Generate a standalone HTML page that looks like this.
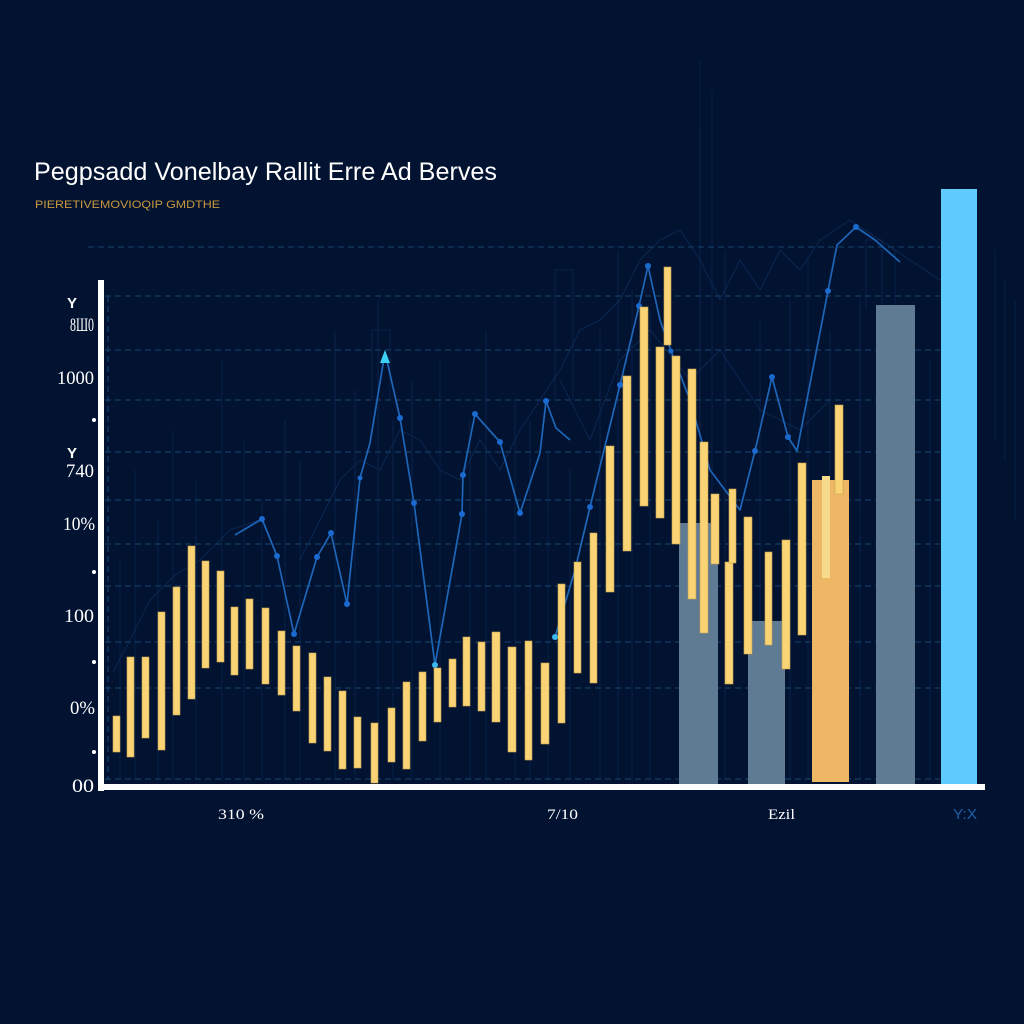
<!DOCTYPE html>
<html><head><meta charset="utf-8"><style>
html,body{margin:0;padding:0;background:#021231;}
svg{display:block;}
</style></head><body>
<svg width="1024" height="1024" viewBox="0 0 1024 1024" xmlns="http://www.w3.org/2000/svg">
<rect width="1024" height="1024" fill="#021231"/>

<g stroke="#0c2a50" stroke-width="1.2" fill="none" opacity="0.6">
<path d="M120 780V560 M135 780V470 M158 780V520 M173 780V430 M196 780V480 M222 780V360 M244 780V440 M262 780V500 M285 780V420 M300 780V460 M335 780V330 M355 780V390 M378 780V300 M393 780V420 M412 780V380 M440 780V360 M470 780V420 M486 780V330 M515 780V400 M530 780V420 M548 780V450 M570 780V470 M600 780V330 M618 780V250 M632 780V290 M650 780V310 M700 780V60 M712 780V90 M725 780V250 M760 780V320 M790 780V300 M808 780V260 M830 780V330 M860 780V300 M895 780V250 M930 780V360 M995 440V250 M1005 460V280 M1015 520V300"/>
<path d="M555 400V270H573V400 M372 400V330H390V400 M866 310V240H882V310"/>
</g>

<g stroke="#174670" stroke-width="1.1" stroke-dasharray="6 4" fill="none">
<line x1="88" y1="247" x2="940" y2="247"/>
<line x1="105" y1="296" x2="940" y2="296"/>
<line x1="105" y1="350" x2="940" y2="350"/>
<line x1="105" y1="400" x2="940" y2="400"/>
<line x1="105" y1="452" x2="940" y2="452"/>
<line x1="105" y1="500" x2="940" y2="500"/>
<line x1="105" y1="544" x2="940" y2="544"/>
<line x1="105" y1="586" x2="940" y2="586"/>
<line x1="105" y1="642" x2="940" y2="642"/>
<line x1="105" y1="688" x2="940" y2="688"/>
<line x1="105" y1="779" x2="940" y2="779"/>
<line x1="108" y1="296" x2="108" y2="780"/>
</g>

<g stroke="#103462" stroke-width="1.1" fill="none" opacity="0.6">
<polyline points="113,672 130,640 150,600 175,575 200,560 230,530 262,519"/>
<polyline points="300,560 320,520 340,480 360,460 380,470 400,430 420,440 440,470 460,480 480,440 500,470 520,430 540,400 560,370 580,330 600,320 620,300 640,260 660,240 680,230 700,260 720,300 740,260 760,290 780,250 800,270 820,240 850,220 880,240 910,260 940,280"/>
<polyline points="560,380 590,440 620,360 650,330 690,380 720,350 760,410 800,430 830,400"/>
</g>

<rect x="679" y="523" width="39" height="264" fill="#5f7a93"/>
<rect x="748" y="621" width="37" height="166" fill="#5f7a93"/>
<rect x="876" y="305" width="39" height="482" fill="#5f7a93"/>
<rect x="941" y="189" width="36" height="598" fill="#5ecbfd"/>
<rect x="812" y="480" width="37" height="302" fill="#eeb765"/>

<g stroke="#1d66b8" stroke-width="1.7" fill="none" stroke-linejoin="round">
<polyline points="235,535 262,519 277,556 294,634 317,557 331,533 347,604 360,478 370,443 385,352 400,418 414,503 435,665 462,514 463,475 475,414 500,442 520,513 540,453 546,401 556,428 570,440"/>
<polyline points="555,637 575,570 590,507 620,385 639,306 648,266 660,320 671,351 690,400 710,470 740,510 755,451 772,377 788,437 797,451 828,291 837,245 856,227 875,240 900,262"/>
</g>
<g fill="#1a6ad0">
<circle cx="262" cy="519" r="3"/><circle cx="277" cy="556" r="3"/><circle cx="294" cy="634" r="3"/>
<circle cx="317" cy="557" r="3"/><circle cx="331" cy="533" r="3"/><circle cx="347" cy="604" r="3"/>
<circle cx="360" cy="478" r="2.5"/><circle cx="400" cy="418" r="3"/><circle cx="414" cy="503" r="3"/>
<circle cx="462" cy="514" r="3"/><circle cx="463" cy="475" r="3"/><circle cx="475" cy="414" r="3"/>
<circle cx="500" cy="442" r="3"/><circle cx="520" cy="513" r="3"/><circle cx="546" cy="401" r="3"/>
<circle cx="590" cy="507" r="3"/><circle cx="620" cy="385" r="3"/><circle cx="639" cy="306" r="3"/>
<circle cx="648" cy="266" r="3"/><circle cx="671" cy="351" r="2.5"/><circle cx="755" cy="451" r="3"/>
<circle cx="772" cy="377" r="3"/><circle cx="788" cy="437" r="3"/><circle cx="828" cy="291" r="3"/>
<circle cx="856" cy="227" r="3"/>
</g>
<circle cx="435" cy="665" r="3" fill="#3ab8f0"/>
<circle cx="555" cy="637" r="3" fill="#3ab8f0"/>
<polygon points="380,363 385,350 390,363" fill="#3dd0f2"/>

<g fill="#f9d374" stroke="#c9a450" stroke-width="0.6">
<rect x="113" y="716" width="7" height="36"/>
<rect x="127" y="657" width="7" height="100"/>
<rect x="142" y="657" width="7" height="81"/>
<rect x="158" y="612" width="7" height="138"/>
<rect x="173" y="587" width="7" height="128"/>
<rect x="188" y="546" width="7" height="153"/>
<rect x="202" y="561" width="7" height="107"/>
<rect x="217" y="571" width="7" height="91"/>
<rect x="231" y="607" width="7" height="68"/>
<rect x="246" y="599" width="7" height="70"/>
<rect x="262" y="608" width="7" height="76"/>
<rect x="278" y="631" width="7" height="64"/>
<rect x="293" y="646" width="7" height="65"/>
<rect x="309" y="653" width="7" height="90"/>
<rect x="324" y="677" width="7" height="74"/>
<rect x="339" y="691" width="7" height="78"/>
<rect x="354" y="717" width="7" height="51"/>
<rect x="371" y="723" width="7" height="60"/>
<rect x="388" y="708" width="7" height="54"/>
<rect x="403" y="682" width="7" height="87"/>
<rect x="419" y="672" width="7" height="69"/>
<rect x="434" y="668" width="7" height="54"/>
<rect x="449" y="659" width="7" height="48"/>
<rect x="463" y="637" width="7" height="69"/>
<rect x="478" y="642" width="7" height="69"/>
<rect x="492" y="632" width="8" height="90"/>
<rect x="508" y="647" width="8" height="105"/>
<rect x="525" y="641" width="7" height="119"/>
<rect x="541" y="663" width="8" height="81"/>
<rect x="558" y="584" width="7" height="139"/>
<rect x="574" y="562" width="7" height="111"/>
<rect x="590" y="533" width="7" height="150"/>
<rect x="606" y="446" width="8" height="146"/>
<rect x="623" y="376" width="8" height="175"/>
<rect x="640" y="307" width="8" height="199"/>
<rect x="656" y="347" width="8" height="171"/>
<rect x="664" y="267" width="7" height="78"/>
<rect x="672" y="356" width="8" height="188"/>
<rect x="688" y="369" width="8" height="230"/>
<rect x="700" y="442" width="8" height="191"/>
<rect x="711" y="494" width="8" height="70"/>
<rect x="725" y="562" width="8" height="122"/>
<rect x="729" y="489" width="7" height="74"/>
<rect x="744" y="517" width="8" height="137"/>
<rect x="765" y="552" width="7" height="93"/>
<rect x="782" y="540" width="8" height="129"/>
<rect x="798" y="463" width="8" height="172"/>
<rect x="835" y="405" width="8" height="89"/>
</g>
<rect x="822" y="476" width="8" height="102" fill="#f8da8c"/>

<rect x="98" y="280" width="6" height="511" fill="#ffffff"/>
<rect x="98" y="784" width="887" height="6" fill="#ffffff"/>

<g fill="#ffffff">
<circle cx="94" cy="420" r="2"/><circle cx="94" cy="572" r="2"/>
<circle cx="94" cy="662" r="2"/><circle cx="94" cy="752" r="2"/>
</g>

<g font-family="Liberation Serif, serif" fill="#ffffff" text-anchor="end">
<text x="77" y="308" font-family="Liberation Sans, sans-serif" font-weight="bold" font-size="15">Y</text>
<text x="94" y="331" font-size="19" textLength="24" lengthAdjust="spacingAndGlyphs">8Ш0</text>
<text x="94" y="384" font-size="19" textLength="37" lengthAdjust="spacingAndGlyphs">1000</text>
<text x="77" y="458" font-family="Liberation Sans, sans-serif" font-weight="bold" font-size="15">Y</text>
<text x="94" y="477" font-size="19" textLength="28" lengthAdjust="spacingAndGlyphs">740</text>
<text x="95" y="530" font-size="19" textLength="32" lengthAdjust="spacingAndGlyphs">10%</text>
<text x="94" y="622" font-size="19" textLength="30" lengthAdjust="spacingAndGlyphs">100</text>
<text x="95" y="714" font-size="19" textLength="25" lengthAdjust="spacingAndGlyphs">0%</text>
<text x="94" y="792" font-size="19" textLength="22" lengthAdjust="spacingAndGlyphs">00</text>
</g>

<g font-family="Liberation Serif, serif" font-size="15" fill="#ffffff">
<text x="218" y="819" textLength="46" lengthAdjust="spacingAndGlyphs">310 %</text>
<text x="547" y="819" textLength="31" lengthAdjust="spacingAndGlyphs">7/10</text>
<text x="768" y="819" textLength="27" lengthAdjust="spacingAndGlyphs">Ezil</text>
<text x="953" y="819" fill="#1e5fa8" font-family="Liberation Sans, sans-serif" textLength="24" lengthAdjust="spacingAndGlyphs">Y:X</text>
</g>

<text x="34" y="180" font-family="Liberation Sans, sans-serif" font-size="25" fill="#ffffff" textLength="463" lengthAdjust="spacingAndGlyphs">Pegpsadd Vonelbay Rallit Erre  Ad Berves</text>
<text x="35" y="208" font-family="Liberation Sans, sans-serif" font-size="11" fill="#c9993c" textLength="185" lengthAdjust="spacingAndGlyphs">PIERETIVEMOVIOQIP GMDTHE</text>
</svg>
</body></html>
